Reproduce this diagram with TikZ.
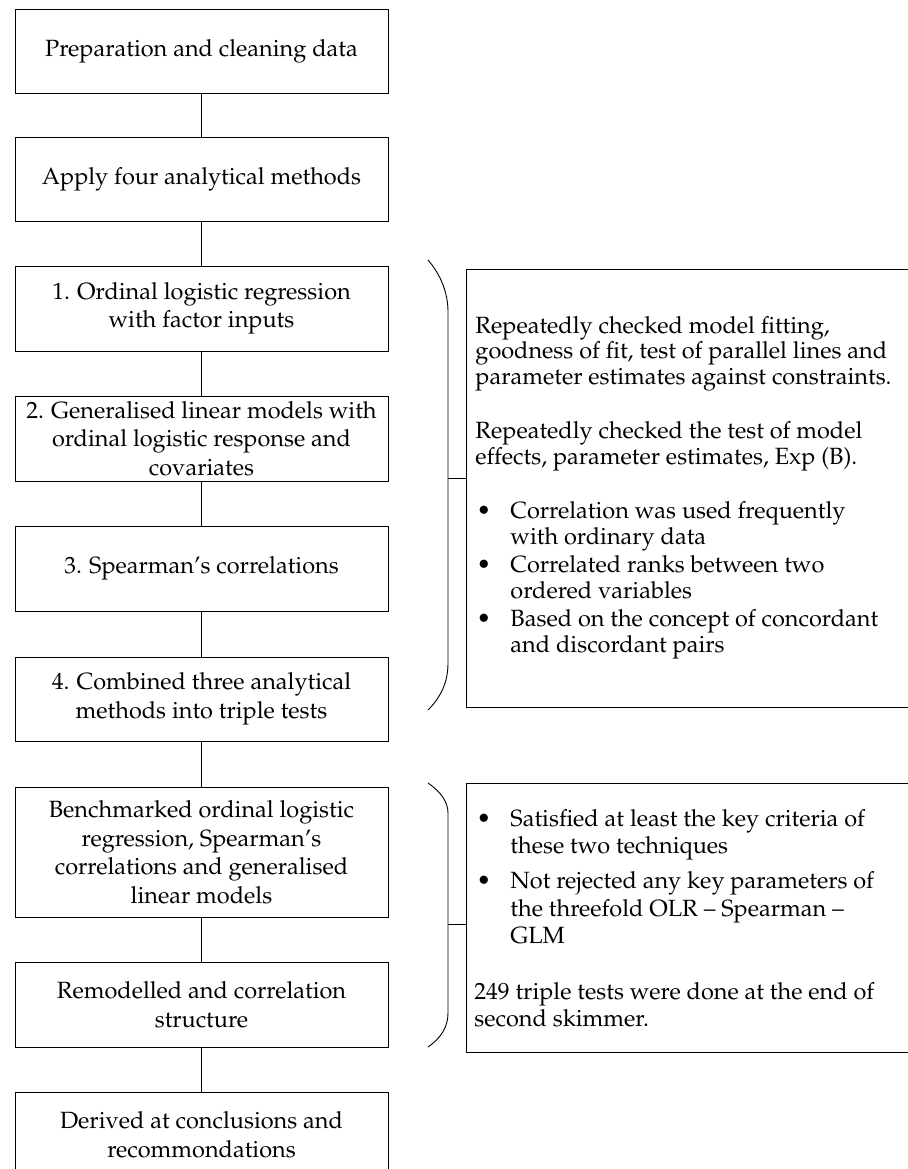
\documentclass[tikz,border=0pt]{standalone}
\usepackage[T1]{fontenc}
\usepackage{mathpazo}
\begin{document}
\begin{tikzpicture}[x=1pt,y=-1pt,line width=0.9pt,
  flowbox/.style={draw, minimum width=373pt, align=center, inner sep=0pt,
    font=\fontsize{23.5}{28.5}\selectfont},
  notebox/.style={draw, minimum width=444pt, inner sep=0pt},
  ln/.style={anchor=base west, inner sep=0pt, font=\fontsize{23.5}{28}\selectfont},
  bul/.style={anchor=base, inner sep=0pt, font=\fontsize{24}{28}\selectfont},
  link/.style={draw, line width=0.9pt},
  brace/.style={draw, line width=0.9pt}]
\useasboundingbox (0,0) rectangle (907,1169);

% left flow boxes
\node[flowbox, minimum height=84pt] (b1) at (201.5,51) {Preparation and cleaning data};
\node[flowbox, minimum height=84pt] (b2) at (201.5,179) {Apply four analytical methods};
\node[flowbox, minimum height=85pt] (b3) at (201.5,308.5) {1. Ordinal logistic regression\\with factor inputs};
\node[flowbox, minimum height=85pt] (b4) at (201.5,438.5) {2. Generalised linear models with\\ordinal logistic response and\\covariates};
\node[flowbox, minimum height=85pt] (b5) at (201.5,568.5) {3. Spearman's correlations};
\node[flowbox, minimum height=84pt] (b6) at (201.5,699) {4. Combined three analytical\\methods into triple tests};
\node[flowbox, minimum height=130pt] (b7) at (201.5,852) {Benchmarked ordinal logistic\\regression, Spearman's\\correlations and generalised\\linear models};
\node[flowbox, minimum height=85pt] (b8) at (201.5,1004.5) {Remodelled and correlation\\structure};
\node[flowbox, minimum height=85pt] (b9) at (201.5,1134.5) {Derived at conclusions and\\recommondations};

\path[link] (b1) -- (b2);
\path[link] (b2) -- (b3);
\path[link] (b3) -- (b4);
\path[link] (b4) -- (b5);
\path[link] (b5) -- (b6);
\path[link] (b6) -- (b7);
\path[link] (b7) -- (b8);
\path[link] (b8) -- (b9);

% right note boxes
\node[notebox, minimum height=438pt] (nA) at (688,488) {};
\node[notebox, minimum height=269pt] (nB) at (688,917.5) {};

% braces
\coordinate (br1tip) at (448,478);
\coordinate (br2tip) at (448,924);
\path[brace] (428,260) .. controls (441,275) and (448,293) .. (448,312)
  -- (448,663) .. controls (448,682) and (441,697) .. (428,710);
\path[brace] (428,783) .. controls (441,792) and (448,802) .. (448,813)
  -- (448,1013) .. controls (448,1027) and (441,1038) .. (428,1047);
\path[link] (br1tip) -- (br1tip -| nA.west);
\path[link] (br2tip) -- (br2tip -| nB.west);

% text of note box A
\node[ln] (a1) at (475,333) {Repeatedly checked model fitting,};
\node[ln] (a2) at (475,358) {goodness of fit, test of parallel lines and};
\node[ln] (a3) at (475,384) {parameter estimates against constraints.};
\node[ln] (a4) at (475,438) {Repeatedly checked the test of model};
\node[ln] (a5) at (475,464) {effects, parameter estimates, Exp (B).};
\node[bul] (ab1) at (484,518) {\textbullet};
\node[ln] (a6) at (510,518) {Correlation was used frequently};
\node[ln] (a7) at (510,544) {with ordinary data};
\node[bul] (ab2) at (484,572) {\textbullet};
\node[ln] (a8) at (510,572) {Correlated ranks between two};
\node[ln] (a9) at (510,598) {ordered variables};
\node[bul] (ab3) at (484,626) {\textbullet};
\node[ln] (a10) at (510,626) {Based on the concept of concordant};
\node[ln] (a11) at (510,652) {and discordant pairs};

% text of note box B
\node[bul] (bb1) at (484,826) {\textbullet};
\node[ln] (c1) at (510,826) {Satisfied at least the key criteria of};
\node[ln] (c2) at (510,853) {these two techniques};
\node[bul] (bb2) at (484,888) {\textbullet};
\node[ln] (c3) at (510,888) {Not rejected any key parameters of};
\node[ln] (c4) at (510,916) {the threefold OLR -- Spearman --};
\node[ln] (c5) at (510,943) {GLM};
\node[ln] (c6) at (474,999) {249 triple tests were done at the end of};
\node[ln] (c7) at (474,1026) {second skimmer.};
\end{tikzpicture}
\end{document}
